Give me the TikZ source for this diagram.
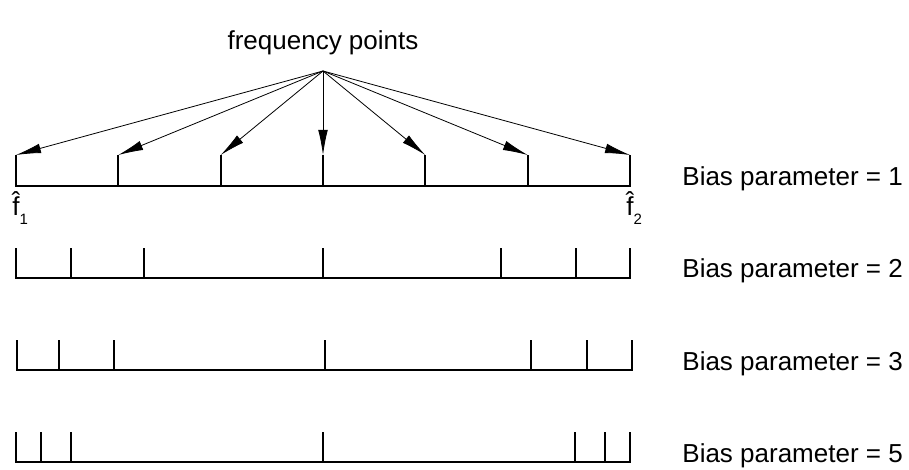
\documentclass[tikz,border=0pt]{standalone}
\usepackage{fontspec}
\setmainfont{Liberation Sans}
\usetikzlibrary{arrows.meta, positioning}

\begin{document}
\begin{tikzpicture}[x=0.5pt, y=-0.5pt,
    every node/.style={font=\fontsize{13}{15}\selectfont},
    scale line/.style={line width=0.9pt},
    pointer/.style={-{Latex[length=12.5pt,width=4.8pt]}, line width=0.4pt},
    bias label/.style={anchor=base west, inner sep=0pt},
    freq label/.style={anchor=base west, inner sep=0pt}]
    \useasboundingbox (0,0) rectangle (909,470);

    % Label and common start of the arrows
    \node[anchor=base, inner sep=0pt] (fp) at (323,50) {frequency points};
    \coordinate (apex) at (323,71);

    % Bias parameter = 1: equally spaced points
    \draw[scale line] (16,155) -- (16,186) -- (630,186) -- (630,155);
    \foreach \x [count=\i] in {16,118.3,220.7,323,425.3,527.7,630} {
        \coordinate (t\i) at (\x,155);
        \draw[scale line] (\x,186) -- (t\i);
        \draw[pointer] (apex) -- (t\i);
    }
    \node[bias label] (b1) at (682,186) {Bias parameter = 1};

    % End points of the range
    \node[freq label] (f1) at (12,215) {\^{f}\raisebox{-5pt}{\fontsize{7.5}{8}\selectfont 1}};
    \node[freq label] (f2) at (626,215) {\^{f}\raisebox{-5pt}{\fontsize{7.5}{8}\selectfont 2}};

    % Points crowded towards both ends
    \foreach \yy/\xa/\xb/\ticks/\bp in
        {278/16/630/{71,144.3,323,501,575.7}/2,
         370/17.3/632.3/{59,114.3,325,531.3,586.7}/3,
         462/16/630/{40.7,71,323,575,605}/5} {
        \draw[scale line] (\xa,\yy-30) -- (\xa,\yy) -- (\xb,\yy) -- (\xb,\yy-30);
        \foreach \x in \ticks
            \draw[scale line] (\x,\yy) -- (\x,\yy-30);
        \node[bias label] (b\bp) at (682,\yy) {Bias parameter = \bp};
    }
\end{tikzpicture}
\end{document}
